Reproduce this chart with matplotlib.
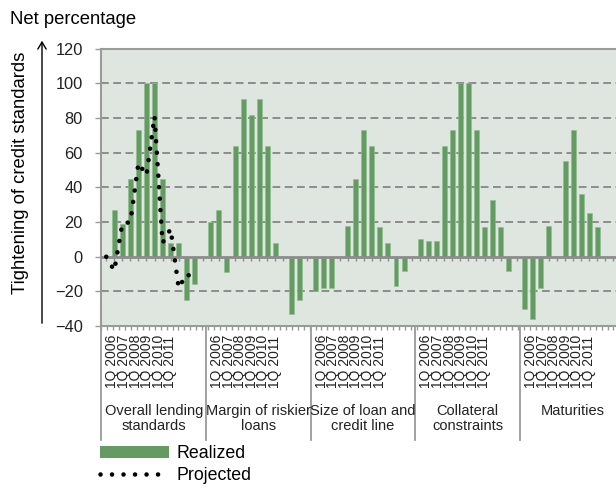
import numpy as np
import matplotlib
matplotlib.use("Agg")
import matplotlib.pyplot as plt
from matplotlib.transforms import blended_transform_factory
from matplotlib.patches import Patch, FancyArrowPatch
from matplotlib.lines import Line2D

plt.rcParams['font.family'] = ['Liberation Sans', 'DejaVu Sans']

# Données
groupes = ["Overall lending\nstandards", "Margin of riskier\nloans",
           "Size of loan and\ncredit line", "Collateral\nconstraints", "Maturities"]
annees = ["1Q 2006", "1Q 2007", "1Q 2008", "1Q 2009", "1Q 2010", "1Q 2011"]

overall = [0, 27, 19, 45, 73, 100, 100, 45, 8, 8, -25, -16]
margin = [20, 27, -9, 64, 91, 82, 91, 64, 8, 0, -33, -25]
size_loan = [-20, -18, -18, 0, 18, 45, 73, 64, 17, 8, -17, -8]
collateral = [10, 9, 9, 64, 73, 100, 100, 73, 17, 33, 17, -8]
maturities = [-30, -36, -18, 18, 0, 55, 73, 36, 25, 17, 0, 0]
realized = [overall, margin, size_loan, collateral, maturities]

# série projetée (premier groupe seulement)
projected = [0, -8, 19, 20, 54, 47, 81, 8, 16, -18, -10, -13]

VERT = '#639b62'
GRIS = '#8c8c8c'
FOND = '#dfe6e0'
PAS = 13  # 12 cases + 1 vide par groupe
POINTS = dict(color='black', lw=3.3, ls=(0, (0.01, 2.5)), dash_capstyle='round')

fig = plt.figure(figsize=(6.16, 4.91), dpi=100)
ax = fig.add_axes([101 / 616, 1 - 326 / 491, 524.4 / 616, 277.2 / 491])
ax.set_facecolor(FOND)
ax.set_xlim(-0.65, 64.5)
ax.set_ylim(-40, 120)

# grille pointillée
for y in [-20, 20, 40, 60, 80, 100]:
    ax.axhline(y, color=GRIS, lw=1.4, ls=(0, (4, 2.3)), zorder=1)

# barres réalisées
for g, vals in enumerate(realized):
    x = PAS * g + np.arange(len(vals))
    ax.bar(x, vals, width=0.62, color=VERT, edgecolor='#8cbf8b', linewidth=0.4, zorder=3)

# ligne projetée
ax.plot(np.arange(len(projected)), projected, zorder=5, **POINTS)

# axe du zéro avec petites graduations
ax.axhline(0, color=GRIS, lw=2, zorder=4)
sec = ax.secondary_xaxis(0.25)
sec.set_xticks(np.arange(5 * PAS))
sec.tick_params(axis='x', direction='out', length=3, width=1, color=GRIS,
                bottom=True, top=False, labelbottom=False, labeltop=False)
for s in sec.spines.values():
    s.set_visible(False)

# axes
for s in ax.spines.values():
    s.set_color('#9a9a9a')
    s.set_linewidth(1.5)
ax.set_yticks(range(-40, 121, 20))
ax.tick_params(axis='y', direction='out', length=4, width=1, color='#9a9a9a',
               labelsize=11.8, pad=9, labelcolor='#222222')
ax.set_xticks(np.linspace(-0.65, 64.5, 89))
ax.tick_params(axis='x', direction='out', length=3, width=1, color='#9a9a9a',
               labelbottom=False)

# étiquettes sous l'axe : un bloc de lignes tournées par groupe
trans = blended_transform_factory(ax.transData, ax.transAxes)
for k in range(6):
    xs = PAS * k - 0.6
    ax.plot([xs, xs], [0, -0.41], transform=trans, color='#9a9a9a', lw=1.3, clip_on=False)
for g, nom in enumerate(groupes):
    debut = PAS * g - 0.55
    ax.text(debut + 0.45, -0.03, "\n".join(annees), rotation=90, ha='left', va='top',
            fontsize=10, linespacing=0.78, color='#222222', transform=trans)
    ax.text(PAS * g + 5.9, -0.28, nom, ha='center', va='top', fontsize=10.5,
            linespacing=1.15, color='#222222', transform=trans)

# titres
fig.text(10 / 616, 1 - 19 / 491, "Net percentage", fontsize=13.3, va='center', ha='left')
fig.text(21 / 616, 1 - 173 / 491, "Tightening of credit standards", fontsize=13.3,
         rotation=90, va='center', ha='center')
fig.add_artist(FancyArrowPatch(
    (42 / 616, 1 - 326 / 491), (42 / 616, 1 - 38 / 491), transform=fig.transFigure,
    arrowstyle='->,head_length=5,head_width=3', lw=1, color='black'))

# légende
poignees = [Patch(facecolor=VERT), Line2D([], [], **POINTS)]
fig.legend(poignees, ["Realized", "Projected"], loc='upper left',
           bbox_to_anchor=(100 / 616, 1 - 445 / 491), frameon=False, fontsize=12.8,
           handlelength=3.9, handletextpad=0.4, labelspacing=0.3, borderpad=0,
           borderaxespad=0, handleheight=0.7)

fig.savefig('out.png', dpi=100)
